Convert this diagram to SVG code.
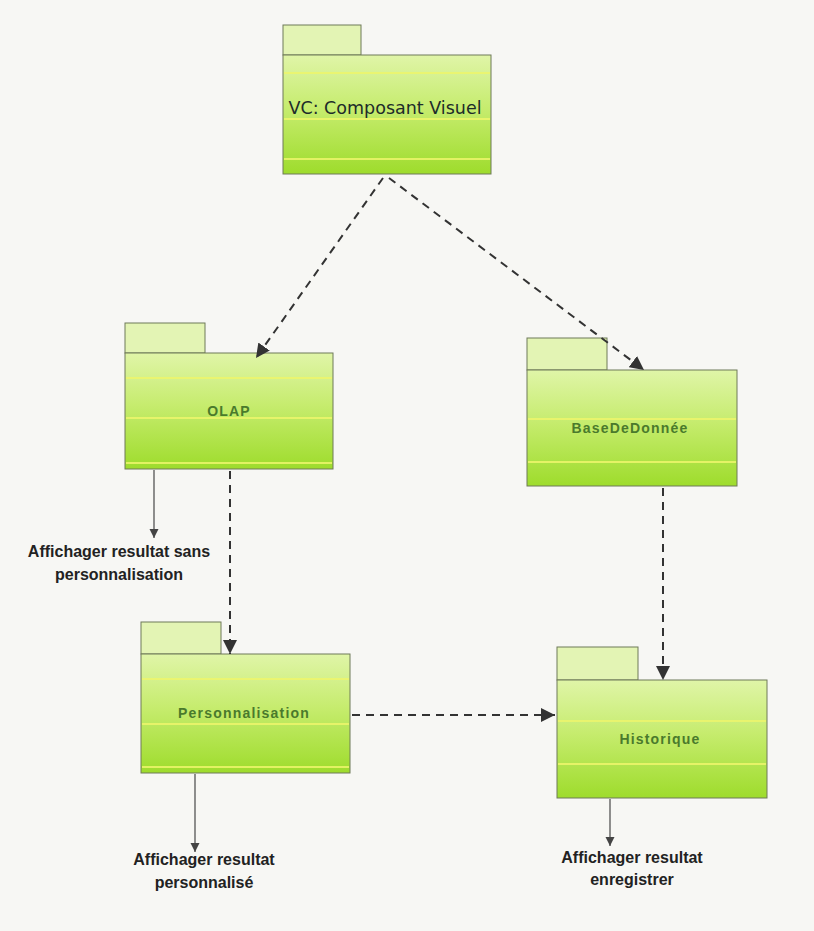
<svg xmlns="http://www.w3.org/2000/svg" width="814" height="931" viewBox="0 0 814 931">
  <style>
    .tab { fill: #e3f4b4; stroke: #6f7a58; stroke-width: 1; }
    .body { fill: url(#pkgFill); stroke: #6f7a58; stroke-width: 1; }
    .stripe { stroke: #eef66c; stroke-width: 2; opacity: 0.85; }
    .title { font-family: "DejaVu Sans", Verdana, sans-serif; font-size: 17.5px; fill: #1d2b2a; text-anchor: middle; }
    .name { font-family: "Liberation Sans", Arial, sans-serif; font-size: 14px; font-weight: bold; letter-spacing: 1.2px; fill: #4a7a2c; text-anchor: middle; }
    .note { font-family: "Liberation Sans", Arial, sans-serif; font-size: 16px; font-weight: bold; fill: #222; text-anchor: middle; }
    .dep { fill: none; stroke: #333; stroke-width: 2; stroke-dasharray: 8 6; marker-end: url(#headBig); }
    .out { fill: none; stroke: #555; stroke-width: 1.3; marker-end: url(#headSmall); }
  </style>
  <defs>
    <linearGradient id="pkgFill" x1="0" y1="0" x2="0" y2="1">
      <stop offset="0" stop-color="#e0f5a8"/>
      <stop offset="0.45" stop-color="#c6ec6e"/>
      <stop offset="1" stop-color="#9edc2c"/>
    </linearGradient>
    <marker id="headBig" viewBox="0 0 10 10" refX="10" refY="5" markerWidth="7" markerHeight="7" markerUnits="strokeWidth" orient="auto">
      <path d="M0,0 L10,5 L0,10 Z" fill="#333"/>
    </marker>
    <marker id="headSmall" viewBox="0 0 10 10" refX="10" refY="5" markerWidth="7" markerHeight="7" markerUnits="strokeWidth" orient="auto">
      <path d="M0,0 L10,5 L0,10 Z" fill="#444"/>
    </marker>
  </defs>

  <rect width="814" height="931" fill="#f7f7f4"/>

  <!-- packages -->
  <g id="vc">
    <rect class="tab" x="283" y="25" width="78" height="30"/>
    <rect class="body" x="283" y="55" width="208" height="119"/>
    <line class="stripe" x1="284" y1="73" x2="490" y2="73"/>
    <line class="stripe" x1="284" y1="119" x2="490" y2="119"/>
    <line class="stripe" x1="284" y1="159" x2="490" y2="159"/>
    <text class="title" x="385" y="114">VC: Composant Visuel</text>
  </g>

  <g id="olap">
    <rect class="tab" x="125" y="323" width="80" height="30"/>
    <rect class="body" x="125" y="353" width="208" height="116"/>
    <line class="stripe" x1="126" y1="378" x2="332" y2="378"/>
    <line class="stripe" x1="126" y1="418" x2="332" y2="418"/>
    <line class="stripe" x1="126" y1="463" x2="332" y2="463"/>
    <text class="name" x="229" y="416">OLAP</text>
  </g>

  <g id="basededonnee">
    <rect class="tab" x="527" y="338" width="80" height="32"/>
    <rect class="body" x="527" y="370" width="210" height="116"/>
    <line class="stripe" x1="528" y1="419" x2="736" y2="419"/>
    <line class="stripe" x1="528" y1="462" x2="736" y2="462"/>
    <text class="name" x="630" y="433">BaseDeDonnée</text>
  </g>

  <g id="personnalisation">
    <rect class="tab" x="141" y="622" width="80" height="32"/>
    <rect class="body" x="141" y="654" width="209" height="119"/>
    <line class="stripe" x1="142" y1="679" x2="349" y2="679"/>
    <line class="stripe" x1="142" y1="724" x2="349" y2="724"/>
    <line class="stripe" x1="142" y1="767" x2="349" y2="767"/>
    <text class="name" x="244" y="718">Personnalisation</text>
  </g>

  <g id="historique">
    <rect class="tab" x="557" y="647" width="81" height="33"/>
    <rect class="body" x="557" y="680" width="210" height="118"/>
    <line class="stripe" x1="558" y1="721" x2="766" y2="721"/>
    <line class="stripe" x1="558" y1="764" x2="766" y2="764"/>
    <text class="name" x="660" y="744">Historique</text>
  </g>

  <!-- connectors -->
  <g id="connectors">
    <line class="dep" x1="383" y1="178" x2="256" y2="358"/>
    <line class="dep" x1="389" y1="178" x2="644" y2="370"/>
    <line class="dep" x1="230" y1="471" x2="230" y2="654"/>
    <line class="dep" x1="663" y1="488" x2="663" y2="680"/>
    <line class="dep" x1="352" y1="715" x2="555" y2="715"/>
    <line class="out" x1="154" y1="470" x2="154" y2="538"/>
    <line class="out" x1="195" y1="774" x2="195" y2="852"/>
    <line class="out" x1="610" y1="799" x2="610" y2="846"/>
  </g>

  <!-- result labels -->
  <g id="labels">
    <text class="note" x="119" y="557">Affichager resultat sans</text>
    <text class="note" x="119" y="580">personnalisation</text>
    <text class="note" x="204" y="865">Affichager resultat</text>
    <text class="note" x="204" y="888">personnalisé</text>
    <text class="note" x="632" y="863">Affichager resultat</text>
    <text class="note" x="632" y="885">enregistrer</text>
  </g>
</svg>
